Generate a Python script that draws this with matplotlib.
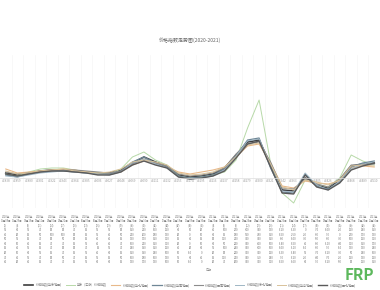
import matplotlib
matplotlib.use('Agg')
import matplotlib.pyplot as plt
import matplotlib.transforms as mtransforms

plt.rcParams['font.family'] = ['Noto Sans CJK SC', 'DejaVu Sans']

# category axis (Excel date serials) and table headers
ticks = ['43838', '43859', '43880', '43901', '43922', '43943', '43964', '43985',
         '44006', '44027', '44048', '44069', '44090', '44111', '44132', '44153',
         '44174', '44195', '44216', '44237', '44258', '44279', '44300', '44321',
         '44342', '44363', '44384', '44405', '44426', '44447', '44468', '44489',
         '44510']
heads = ['2020年\n01月08日\n(2)', '2020年\n01月29日\n(5)', '2020年\n02月19日\n(8)',
         '2020年\n03月11日\n(11)', '2020年\n04月01日\n(14)', '2020年\n04月22日\n(17)',
         '2020年\n05月13日\n(20)', '2020年\n06月03日\n(23)', '2020年\n06月24日\n(26)',
         '2020年\n07月15日\n(29)', '2020年\n08月05日\n(32)', '2020年\n08月26日\n(35)',
         '2020年\n09月16日\n(38)', '2020年\n10月07日\n(41)', '2020年\n10月28日\n(44)',
         '2020年\n11月18日\n(47)', '2020年\n12月09日\n(50)', '2020年\n12月30日\n(53)',
         '2021年\n01月20日\n(3)', '2021年\n02月10日\n(6)', '2021年\n03月03日\n(9)',
         '2021年\n03月24日\n(12)', '2021年\n04月14日\n(15)', '2021年\n05月05日\n(18)',
         '2021年\n05月26日\n(21)', '2021年\n06月16日\n(24)', '2021年\n07月07日\n(27)',
         '2021年\n07月28日\n(30)', '2021年\n08月18日\n(33)', '2021年\n09月08日\n(36)',
         '2021年\n09月29日\n(39)', '2021年\n10月20日\n(42)', '2021年\n11月10日\n(45)']

names = ['价格指数(华东地区)', '华东（江浙）价格指数', '价格指数(华北地区)', '价格指数(华南地区)',
         '价格指数(西南地区)', '价格指数(东北地区)', '价格指数(华中地区)', '价格指数(西北地区)']

s1 = [50, 30, 50, 70, 80, 80, 70, 60, 50, 50, 80, 150, 210, 160, 120, 30, 10,
      20, 40, 100, 230, 360, 380, 130, -120, -130, 0, -70, -100, -20, 120, 140, 150]
s2 = [40, 20, 60, 90, 100, 100, 80, 60, 50, 40, 90, 210, 260, 180, 130, 20, 0,
      10, 30, 60, 180, 500, 780, 150, -150, -250, -20, -60, -90, 0, 230, 170, 130]
s3 = [90, 50, 60, 70, 80, 90, 80, 60, 40, 40, 60, 130, 170, 150, 110, 60, 40,
      60, 80, 110, 210, 320, 340, 150, -80, -100, -30, -50, -60, -30, 100, 120, 110]
s4 = [30, 10, 40, 60, 70, 70, 60, 50, 40, 40, 70, 160, 210, 150, 110, 20, 0,
      10, 30, 90, 220, 380, 400, 100, -140, -150, 40, -80, -110, -40, 110, 150, 170]
s5 = [60, 40, 50, 60, 70, 80, 80, 70, 60, 50, 70, 140, 190, 150, 120, 40, 20,
      30, 50, 100, 240, 340, 360, 160, -100, -110, -10, -60, -90, -10, 130, 130, 140]
s6 = [20, 10, 30, 50, 60, 70, 60, 50, 40, 30, 60, 150, 190, 140, 100, 10, -10,
      0, 20, 80, 220, 370, 390, 120, -130, -140, 50, -70, -120, -30, 90, 140, 160]
s7 = [70, 40, 50, 70, 80, 90, 70, 60, 50, 60, 90, 160, 180, 160, 130, 50, 30,
      40, 60, 110, 210, 330, 350, 140, -90, -120, -20, -40, -70, -20, 120, 130, 120]
s8 = [40, 20, 40, 60, 70, 70, 60, 50, 30, 30, 60, 130, 170, 130, 100, 10, -10,
      0, 20, 70, 200, 340, 370, 110, -150, -160, 30, -90, -120, -50, 80, 120, 150]
series = [s1, s2, s3, s4, s5, s6, s7, s8]
colors = ['#3d3d3d', '#b7d9a8', '#e8b98a', '#6f8796', '#8c8c8c', '#9fb6c4', '#d8c29a', '#5a5a5a']
widths = [1.2, 0.7, 0.8, 0.9, 0.8, 0.7, 0.7, 1.0]

fig = plt.figure(figsize=(3.8, 2.9), dpi=100)
ax = fig.add_axes([0.0, 1 - 208 / 290, 1.0, 153 / 290])
x = list(range(len(ticks)))

for s, c, w, n in zip(series, colors, widths, names):
    ax.plot(x, s, color=c, lw=w, label=n, solid_joinstyle='round')

ax.set_xlim(-0.5, len(ticks) - 0.5)
ax.set_ylim(-300, 1230)
ax.set_xticks(x, ticks)
ax.tick_params(axis='x', length=0, pad=1, labelsize=2.2, labelcolor='#999999')
ax.set_yticks([])
for sp in ['top', 'right', 'left']:
    ax.spines[sp].set_visible(False)
ax.spines['bottom'].set_position(('data', 0))
ax.spines['bottom'].set_color('#dddddd')
ax.spines['bottom'].set_linewidth(0.5)
for xi in x:
    ax.axvline(xi + 0.5, color='#f3f3f3', lw=0.4, zorder=0)

fig.text(0.5, 1 - 40 / 290, '价格指数走势图(2020-2021)', ha='center', va='center',
         fontsize=3.6, color='#666666')

# data table under the chart
trans = mtransforms.blended_transform_factory(ax.transData, fig.transFigure)
for i, h in enumerate(heads):
    fig.text(i, 1 - 221 / 290, h, transform=trans, ha='center', va='center',
             fontsize=1.8, color='#777777', linespacing=1.0)
for r, s in enumerate(series):
    yy = 1 - (230 + r * 4.6) / 290
    for i, v in enumerate(s):
        fig.text(i, yy, str(v), transform=trans, ha='center', va='center',
                 fontsize=2.0, color='#777777')

fig.text(208 / 380, 1 - 270 / 290, '日期', ha='center', va='center', fontsize=2.2, color='#888888')

fig.legend(loc='center', bbox_to_anchor=(0.5, 1 - 285 / 290), ncol=8, fontsize=2.2,
           frameon=False, handlelength=3, columnspacing=1.2, labelcolor='#777777')

fig.text(0.985, 1 - 275 / 290, 'FRP', ha='right', va='center', fontsize=11,
         color='#5cb85c', fontweight='bold')

fig.savefig('out.png', dpi=100)
